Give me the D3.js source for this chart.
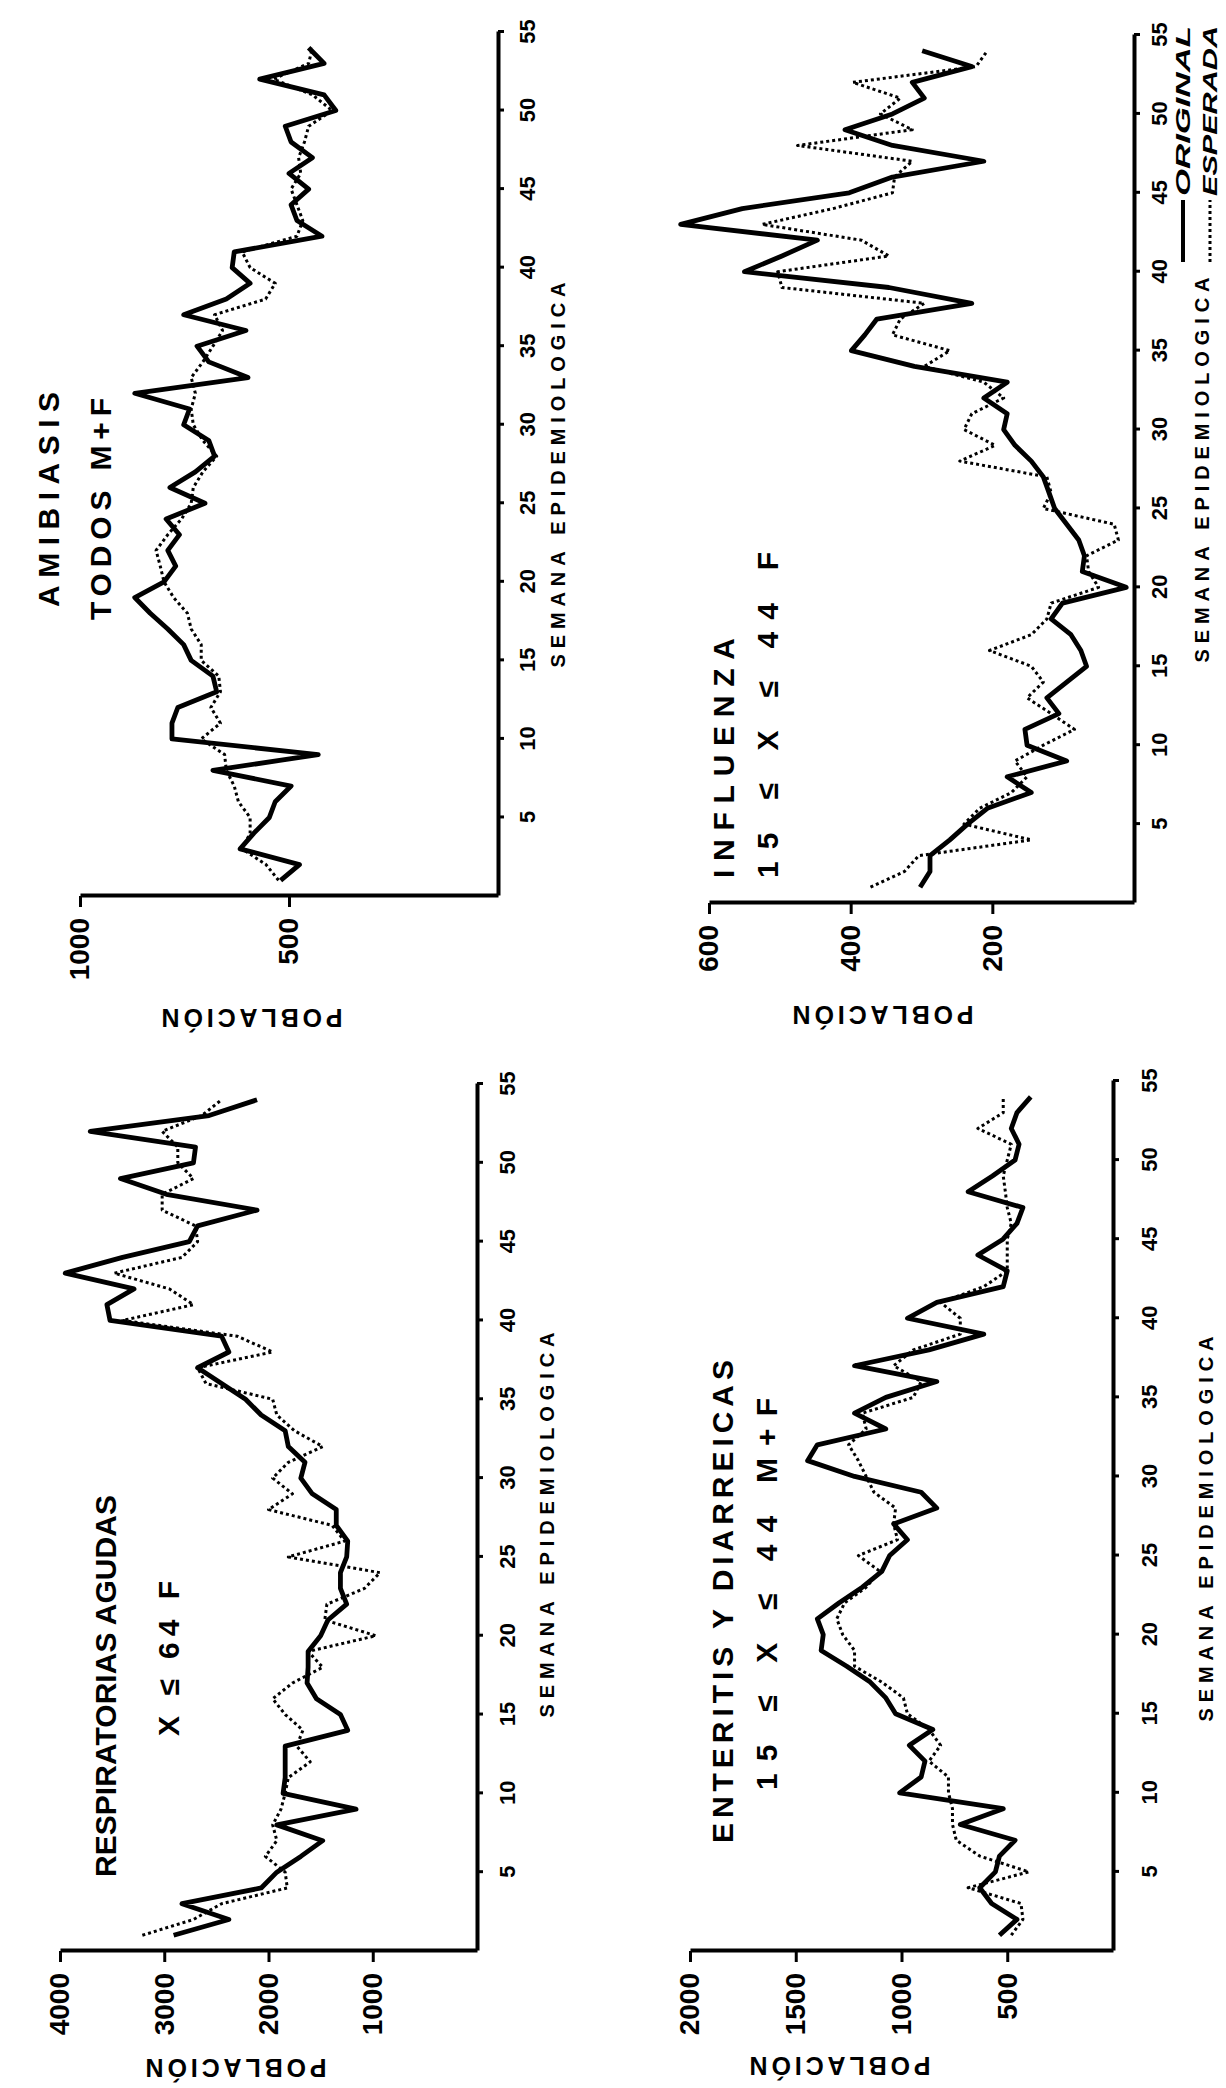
<!DOCTYPE html>
<html>
<head>
<meta charset="utf-8">
<script src="https://cdn.jsdelivr.net/npm/d3@7/dist/d3.min.js"></script>
<style>
  body { margin: 0; background: #fff; }
  svg { display: block; }
  text { font-family: "Liberation Sans", Arial, sans-serif; font-weight: bold; fill: #000; }
</style>
</head>
<body>
<div id="chart"></div>
<script>
// semanas epidemiologicas
const weeks = [1, 2, 3, 4, 5, 6, 7, 8, 9, 10, 11, 12, 13, 14, 15, 16, 17, 18, 19, 20, 21, 22, 23, 24, 25, 26, 27,
  28, 29, 30, 31, 32, 33, 34, 35, 36, 37, 38, 39, 40, 41, 42, 43, 44, 45, 46, 47, 48, 49, 50, 51, 52, 53, 54];
const weekTicks = [5, 10, 15, 20, 25, 30, 35, 40, 45, 50, 55];

// AMIBIASIS, todos M+F
const amibOriginal = [520, 475, 617, 584, 547, 533, 495, 682, 430, 780, 780, 766, 673, 682, 734, 752, 790, 832,
  869, 799, 771, 790, 762, 794, 701, 785, 724, 678, 692, 752, 738, 869, 598, 692, 720, 603, 752, 650, 593, 636,
  631, 421, 481, 495, 453, 500, 444, 495, 509, 388, 416, 570, 416, 453];
const amibEsperada = [525, 555, 612, 593, 593, 621, 631, 650, 654, 710, 664, 687, 664, 668, 710, 710, 734, 743,
  776, 799, 808, 818, 790, 757, 734, 729, 706, 673, 706, 729, 734, 724, 734, 706, 682, 659, 678, 556, 533, 593,
  612, 481, 467, 481, 495, 472, 477, 463, 453, 397, 444, 537, 453, 444];
const amibTicks = [500, 1000];

// INFLUENZA, 15 <= X <= 44 F
const inflOriginal = [302, 288, 288, 260, 235, 207, 145, 179, 95, 151, 154, 106, 123, 95, 67, 75, 89, 117, 101,
  11, 73, 70, 78, 95, 112, 120, 128, 145, 168, 184, 179, 212, 179, 310, 399, 380, 363, 229, 346, 550, 497, 447,
  640, 553, 402, 341, 212, 341, 408, 341, 296, 313, 229, 299];
const inflEsperada = [372, 324, 304, 145, 240, 218, 173, 151, 168, 128, 84, 117, 151, 128, 145, 204, 145, 123,
  117, 50, 64, 67, 22, 28, 128, 117, 123, 246, 196, 240, 229, 184, 212, 296, 260, 341, 330, 296, 497, 503, 346,
  385, 525, 425, 341, 338, 313, 475, 313, 358, 330, 397, 223, 207];
const inflTicks = [200, 400, 600];

// RESPIRATORIAS AGUDAS, X <= 64 F
const respOriginal = [2910, 2380, 2830, 2070, 1920, 1690, 1480, 1920, 1160, 1860, 1840, 1840, 1840, 1240, 1310,
  1540, 1630, 1620, 1620, 1500, 1430, 1250, 1310, 1310, 1250, 1240, 1350, 1350, 1580, 1690, 1650, 1810, 1840,
  2070, 2220, 2450, 2680, 2380, 2450, 3520, 3550, 3290, 3950, 3400, 2760, 2680, 2110, 2980, 3420, 2720, 2700,
  3710, 2570, 2110];
const respEsperada = [3210, 2720, 2450, 1820, 1840, 2030, 1920, 1960, 1880, 1840, 1810, 1600, 1730, 1670, 1840,
  1960, 1770, 1480, 1620, 970, 1460, 1440, 1080, 930, 1810, 1270, 1390, 2000, 1770, 1960, 1810, 1480, 1750,
  1920, 1960, 2600, 2680, 1960, 2300, 3400, 2720, 2950, 3480, 2830, 2680, 2700, 3020, 3020, 2720, 2870, 2870,
  3020, 2640, 2450];
const respTicks = [1000, 2000, 3000, 4000];

// ENTERITIS Y DIARREICAS, 15 <= X <= 44 M+F
const entOriginal = [537, 454, 574, 630, 556, 537, 463, 722, 519, 1009, 907, 889, 963, 852, 1028, 1074, 1148,
  1259, 1380, 1370, 1398, 1296, 1185, 1093, 1056, 972, 1037, 833, 907, 1222, 1444, 1398, 1074, 1222, 1074, 833,
  1222, 870, 611, 972, 833, 519, 500, 639, 520, 454, 426, 685, 570, 463, 444, 481, 454, 389];
const entEsperada = [481, 426, 435, 685, 398, 630, 741, 759, 759, 778, 778, 870, 815, 870, 972, 991, 1093, 1222,
  1222, 1278, 1306, 1269, 1167, 1102, 1204, 1019, 1037, 1028, 1130, 1167, 1204, 1250, 1167, 1185, 944, 907,
  1037, 944, 722, 722, 815, 611, 500, 500, 500, 481, 500, 509, 519, 500, 481, 639, 519, 519];
const entTicks = [500, 1000, 1500, 2000];

// page layout of each (rotated) panel
const panels = [
  {
    original: amibOriginal, esperada: amibEsperada, ticks: amibTicks, maxVal: 1000,
    xMax: 80, xZero: 498, yWeek0: 896, yWeek55: 32, weekPad: 15, semanaGap: 60, semanaY: 475,
    titles: [
      { text: 'AMIBIASIS', bx: 59, sy: 607, len: 215 },
      { text: 'TODOS M+F', bx: 111, sy: 620, len: 222 }
    ],
    pobl: { x: 252, y: 1018 }
  },
  {
    original: inflOriginal, esperada: inflEsperada, ticks: inflTicks, maxVal: 600,
    xMax: 709, xZero: 1134, yWeek0: 903, yWeek55: 35, weekPad: 11, semanaGap: 68, semanaY: 470,
    titles: [
      { text: 'INFLUENZA', bx: 734, sy: 878, len: 240 },
      { text: '15 \u2264 X \u2264 44 F', bx: 778, sy: 878, len: 326 }
    ],
    pobl: { x: 883, y: 1015 }
  },
  {
    original: respOriginal, esperada: respEsperada, ticks: respTicks, maxVal: 4000,
    xMax: 60, xZero: 477, yWeek0: 1951, yWeek55: 1084, weekPad: 16, semanaGap: 70, semanaY: 1525,
    titles: [
      { text: 'RESPIRATORIAS AGUDAS', bx: 116, sy: 1877, len: 382 },
      { text: 'X \u2264 64 F', bx: 179, sy: 1736, len: 155 }
    ],
    pobl: { x: 236, y: 2068 }
  },
  {
    original: entOriginal, esperada: entEsperada, ticks: entTicks, maxVal: 2000,
    xMax: 690, xZero: 1113, yWeek0: 1951, yWeek55: 1081, weekPad: 22, semanaGap: 93, semanaY: 1529,
    titles: [
      { text: 'ENTERITIS  Y  DIARREICAS', bx: 733, sy: 1843, len: 483 },
      { text: '15 \u2264  X \u2264  44  M+F', bx: 777, sy: 1790, len: 392 }
    ],
    pobl: { x: 840, y: 2066 }
  }
];

const svg = d3
  .select('#chart')
  .append('svg')
  .attr('width', 1226)
  .attr('height', 2088);

svg.append('rect').attr('width', 1226).attr('height', 2088).attr('fill', '#fff');

panels.forEach(function (p) {
  // the chart is drawn upright and turned a quarter turn to the left
  const width = p.yWeek0 - p.yWeek55;
  const height = p.xZero - p.xMax;

  const g = svg
    .append('g')
    .attr('transform', `translate(${p.xMax},${p.yWeek0}) rotate(-90)`);

  // set the ranges
  const x = d3.scaleLinear().domain([0, 55]).range([0, width]);
  const y = d3.scaleLinear().domain([0, p.maxVal]).range([height, 0]);

  // semana axis
  const gx = g
    .append('g')
    .attr('transform', `translate(0,${height})`)
    .call(d3.axisBottom(x).tickValues(weekTicks).tickSize(6).tickSizeOuter(0).tickPadding(p.weekPad));
  gx.attr('font-family', null).attr('font-size', 22);
  gx.select('.domain').attr('stroke-width', 4);
  gx.selectAll('.tick line').attr('stroke-width', 3);

  // poblacion axis
  const gy = g
    .append('g')
    .call(d3.axisLeft(y).tickValues(p.ticks).tickSize(11).tickSizeOuter(0).tickPadding(11).tickFormat(d3.format('d')));
  gy.attr('font-family', null).attr('font-size', 28);
  gy.select('.domain').attr('stroke-width', 4);
  gy.selectAll('.tick line').attr('stroke-width', 3);

  const line = d3
    .line()
    .x(function (d, i) {
      return x(weeks[i]);
    })
    .y(function (d) {
      return y(d);
    });

  // esperada (dotted)
  g.append('path')
    .datum(p.esperada)
    .attr('d', line)
    .attr('fill', 'none')
    .attr('stroke', '#000')
    .attr('stroke-width', 3)
    .attr('stroke-dasharray', '3,3')
    .attr('stroke-linejoin', 'round');

  // original (solid)
  g.append('path')
    .datum(p.original)
    .attr('d', line)
    .attr('fill', 'none')
    .attr('stroke', '#000')
    .attr('stroke-width', 4.8)
    .attr('stroke-linejoin', 'round');

  // axis titles
  g.append('text')
    .attr('x', p.yWeek0 - p.semanaY)
    .attr('y', height + p.semanaGap + 7)
    .attr('text-anchor', 'middle')
    .attr('font-size', 20)
    .attr('textLength', 385)
    .attr('lengthAdjust', 'spacing')
    .text('SEMANA EPIDEMIOLOGICA');

  g.append('text')
    .attr('transform', `translate(${p.yWeek0 - p.pobl.y + 9},${p.pobl.x - p.xMax}) rotate(-90)`)
    .attr('text-anchor', 'middle')
    .attr('font-size', 25)
    .attr('textLength', 181)
    .attr('lengthAdjust', 'spacing')
    .text('POBLACIÓN');

  // panel titles
  p.titles.forEach(function (t) {
    g.append('text')
      .attr('x', p.yWeek0 - t.sy)
      .attr('y', t.bx - p.xMax)
      .attr('font-size', 30)
      .attr('textLength', t.len)
      .attr('lengthAdjust', 'spacing')
      .text(t.text);
  });
});

// legend, top right corner
const legend = [
  { label: 'ORIGINAL', dash: null, w: 4, x: 1190, y: 262 },
  { label: 'ESPERADA', dash: '3,3', w: 3, x: 1217, y: 262 }
];
legend.forEach(function (l) {
  const lg = svg.append('g').attr('transform', `translate(${l.x},${l.y}) rotate(-90)`);
  lg.append('line')
    .attr('x1', 0)
    .attr('x2', 62)
    .attr('y1', -7)
    .attr('y2', -7)
    .attr('stroke', '#000')
    .attr('stroke-width', l.w)
    .attr('stroke-dasharray', l.dash);
  lg.append('text')
    .attr('x', 66)
    .attr('y', 0)
    .attr('font-size', 20)
    .attr('font-weight', 'normal')
    .attr('font-style', 'italic')
    .attr('textLength', 170)
    .attr('lengthAdjust', 'spacingAndGlyphs')
    .text(l.label);
});
</script>
</body>
</html>
